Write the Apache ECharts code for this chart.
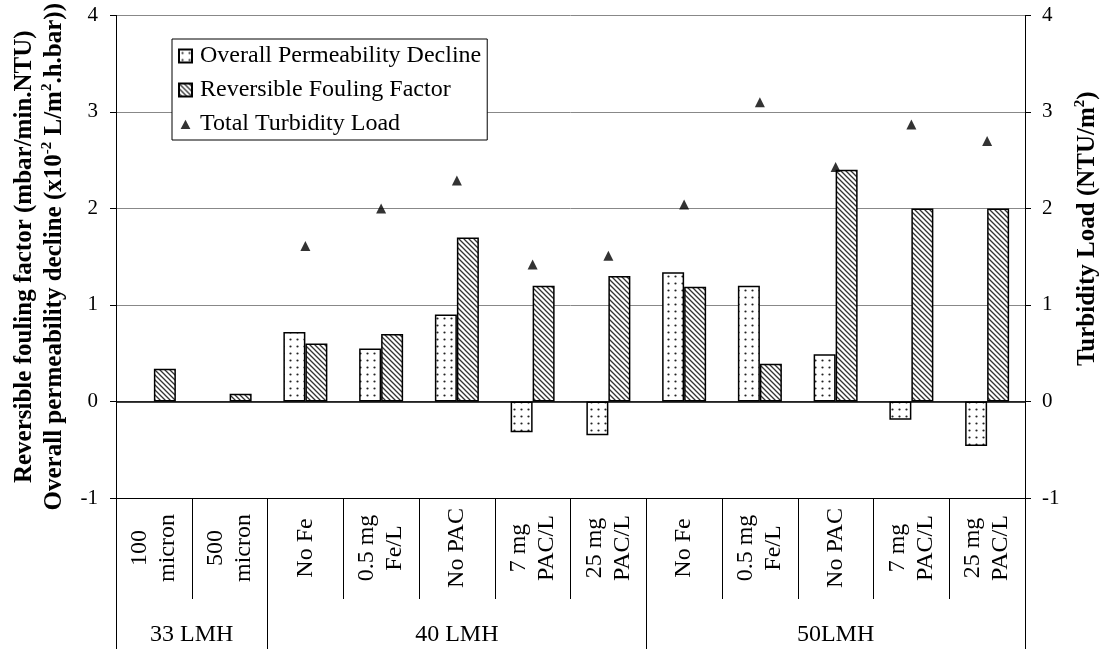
<!DOCTYPE html>
<html>
<head>
<meta charset="utf-8">
<script src="https://cdn.jsdelivr.net/npm/echarts@6/dist/echarts.min.js"></script>
<style>
  html, body { margin: 0; padding: 0; background: #fff; }
  #chart { width: 1111px; height: 649px; }
</style>
</head>
<body>
<div id="chart"></div>
<script>
// Test conditions along the bottom axis
const categories = ['100\nmicron', '500\nmicron', 'No Fe', '0.5 mg\nFe/L', 'No PAC', '7 mg\nPAC/L', '25 mg\nPAC/L',
                    'No Fe', '0.5 mg\nFe/L', 'No PAC', '7 mg\nPAC/L', '25 mg\nPAC/L'];
// Flux groups and how many conditions each spans
const groups = ['33 LMH', '40 LMH', '50LMH'];
const groupSpans = [2, 5, 5];

// Series values
const permeabilityDecline = [null, null, 0.72, 0.55, 0.90, -0.32, -0.35, 1.34, 1.20, 0.49, -0.19, -0.46];
const reversibleFouling   = [0.34, 0.08, 0.60, 0.70, 1.70, 1.20, 1.30, 1.19, 0.39, 2.40, 2.00, 2.00];
const turbidityLoad       = [null, null, 1.61, 2.00, 2.29, 1.42, 1.51, 2.04, 3.10, 2.43, 2.87, 2.70];

// Axis range shared by both value axes
const yMin = -1, yMax = 4, yStep = 1;

const FONT = 'Liberation Serif';

// Fill patterns for the two bar series
function dotPattern() {
  const c = document.createElement('canvas');
  c.width = 7; c.height = 7;
  const g = c.getContext('2d');
  g.fillStyle = '#fff'; g.fillRect(0, 0, 7, 7);
  g.fillStyle = '#222';
  g.beginPath(); g.arc(3.5, 3.5, 1.1, 0, Math.PI * 2); g.fill();
  return { image: c, repeat: 'repeat' };
}
function hatchPattern() {
  const s = 5;
  const c = document.createElement('canvas');
  c.width = s; c.height = s;
  const g = c.getContext('2d');
  g.fillStyle = '#fff'; g.fillRect(0, 0, s, s);
  g.strokeStyle = '#333'; g.lineWidth = 1.3;
  g.beginPath();
  g.moveTo(-1, -1); g.lineTo(s + 1, s + 1);
  g.moveTo(s - 1, -1); g.lineTo(s + 1, 1);
  g.moveTo(-1, s - 1); g.lineTo(1, s + 1);
  g.stroke();
  return { image: c, repeat: 'repeat' };
}

// Group label positions (centre of each span) and boundaries
const groupCenters = [];
const groupBounds = [0];
let acc = 0;
groupSpans.forEach(n => { groupCenters.push(acc + n / 2); acc += n; groupBounds.push(acc); });

const chart = echarts.init(document.getElementById('chart'), null, { renderer: 'canvas' });

const supRich = {
  t: { fontFamily: FONT, fontWeight: 'bold', fontSize: 25, lineHeight: 30, color: '#000' },
  s: { fontFamily: FONT, fontWeight: 'bold', fontSize: 15, lineHeight: 16, verticalAlign: 'top', color: '#000' }
};

chart.setOption({
  animation: false,
  backgroundColor: '#fff',
  textStyle: { fontFamily: FONT },
  grid: { left: 116, right: 83, top: 15, bottom: 151, containLabel: false },
  legend: {
    orient: 'vertical',
    left: 172, top: 39,
    itemWidth: 13, itemHeight: 13, itemGap: 10,
    padding: [5, 6, 4, 6],
    backgroundColor: '#fff',
    borderColor: '#000', borderWidth: 1,
    textStyle: { fontFamily: FONT, fontSize: 24, color: '#000', padding: [0, 0, 0, 3] },
    data: [
      { name: 'Overall Permeability Decline', icon: 'rect' },
      { name: 'Reversible Fouling Factor', icon: 'rect' },
      { name: 'Total Turbidity Load', icon: 'path://M0,0M12,12M6,2L10.5,10.5L1.5,10.5Z' }
    ]
  },
  xAxis: [
    {
      type: 'category',
      data: categories,
      position: 'bottom',
      axisLine: { onZero: false, lineStyle: { color: '#000', width: 1 } },
      axisTick: { show: true, interval: 0, length: 101, lineStyle: { color: '#000', width: 1 } },
      axisLabel: {
        interval: 0, rotate: 90, align: 'center', verticalAlign: 'middle',
        margin: 50, fontFamily: FONT, fontSize: 24, lineHeight: 28, color: '#000'
      },
      splitLine: { show: false }
    },
    {
      type: 'value',
      min: 0, max: categories.length,
      position: 'bottom',
      offset: 101,
      axisLine: { show: false, onZero: false },
      axisTick: { show: true, customValues: groupBounds, length: 60, lineStyle: { color: '#000', width: 1 } },
      axisLabel: {
        customValues: groupCenters,
        formatter: v => groups[groupCenters.indexOf(v)] || '',
        margin: 24, fontFamily: FONT, fontSize: 24, color: '#000'
      },
      splitLine: { show: false }
    }
  ],
  yAxis: [
    {
      type: 'value',
      min: yMin, max: yMax, interval: yStep,
      position: 'left',
      axisLine: { show: true, lineStyle: { color: '#000', width: 1 } },
      axisTick: { show: true, length: 6, lineStyle: { color: '#000' } },
      axisLabel: { fontFamily: FONT, fontSize: 21, color: '#000', margin: 18 },
      splitLine: { show: true, lineStyle: { color: '#888', width: 1 } },
      name: '{t|Reversible fouling factor (mbar/min.NTU)}\n{t|Overall permeability decline (x10}{s|-2}{t| L/m}{s|2}{t|.h.bar))}',
      nameLocation: 'middle',
      nameRotate: 90,
      nameGap: 26,
      nameTextStyle: { fontFamily: FONT, fontWeight: 'bold', fontSize: 25, lineHeight: 30, color: '#000', rich: supRich }
    },
    {
      type: 'value',
      min: yMin, max: yMax, interval: yStep,
      position: 'right',
      axisLine: { show: true, lineStyle: { color: '#000', width: 1 } },
      axisTick: { show: true, length: 6, lineStyle: { color: '#000' } },
      axisLabel: { fontFamily: FONT, fontSize: 21, color: '#000', margin: 17 },
      splitLine: { show: false },
      name: '{t|Turbidity Load (NTU/m}{s|2}{t|)}',
      nameLocation: 'middle',
      nameRotate: 90,
      nameGap: 48,
      nameTextStyle: { fontFamily: FONT, fontWeight: 'bold', fontSize: 25, lineHeight: 30, color: '#000', rich: supRich, padding: [0, 0, 0, 56] }
    }
  ],
  series: [
    {
      name: 'Overall Permeability Decline',
      type: 'bar',
      xAxisIndex: 0, yAxisIndex: 0,
      data: permeabilityDecline,
      barWidth: 22, barGap: '0%',
      itemStyle: { color: dotPattern(), borderColor: '#000', borderWidth: 1.5 },
      markLine: {
        silent: true, symbol: 'none', label: { show: false },
        lineStyle: { color: '#000', width: 1.5, type: 'solid' },
        data: [{ yAxis: 0 }]
      }
    },
    {
      name: 'Reversible Fouling Factor',
      type: 'bar',
      xAxisIndex: 0, yAxisIndex: 0,
      data: reversibleFouling,
      barWidth: 22, barGap: '0%',
      itemStyle: { color: hatchPattern(), borderColor: '#000', borderWidth: 1.5 }
    },
    {
      name: 'Total Turbidity Load',
      type: 'scatter',
      xAxisIndex: 0, yAxisIndex: 1,
      data: turbidityLoad,
      symbol: 'triangle',
      symbolSize: 10,
      itemStyle: { color: '#000' },
      z: 5
    }
  ]
});
</script>
</body>
</html>
